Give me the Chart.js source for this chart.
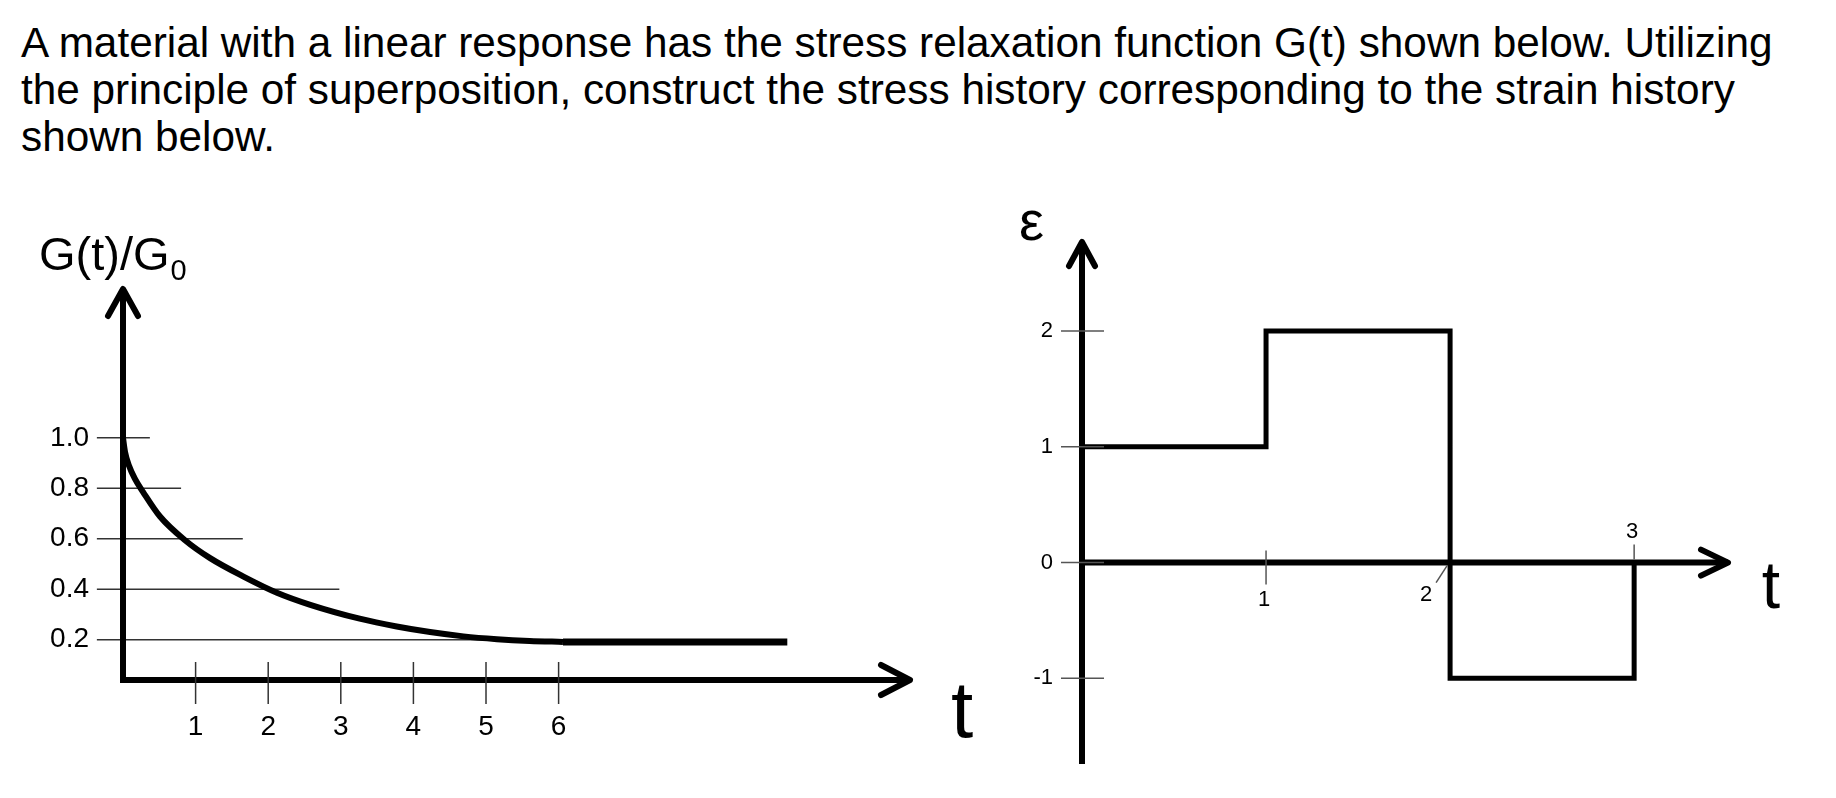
<!DOCTYPE html>
<html>
<head>
<meta charset="utf-8">
<script src="https://cdn.jsdelivr.net/npm/chart.js@4.4.1/dist/chart.umd.min.js"></script>
<style>
  html, body { margin: 0; padding: 0; background: #fff; }
  body { width: 1836px; height: 798px; position: relative; overflow: hidden; font-family: "Liberation Sans", Arial, sans-serif; }
  #title { position: absolute; left: 21px; top: 19px; font-size: 42.3px; line-height: 47px; color: #000; white-space: nowrap; }
  canvas { position: absolute; left: 0; top: 0; }
</style>
</head>
<body>
<div id="title">A material with a linear response has the stress relaxation function G(t) shown below. Utilizing<br>the principle of superposition, construct the stress history corresponding to the strain history<br>shown below.</div>
<canvas id="relaxChart" width="1836" height="798"></canvas>
<canvas id="strainChart" width="1836" height="798"></canvas>
<script>
// G(t)/G0
const relaxT   = [0, 0.028, 0.083, 0.165, 0.275, 0.51, 0.85, 1.2, 1.66, 2.12, 2.58, 3.26, 3.77, 4.23, 4.69, 5.15, 5.6, 6.06];
const relaxVal = [1.0, 0.944, 0.889, 0.837, 0.786, 0.688, 0.595, 0.523, 0.45, 0.386, 0.338, 0.283, 0.252, 0.23, 0.213, 0.202, 0.195, 0.191];
// long-time plateau
const tailT   = [6.06, 9.15];
const tailVal = [0.191, 0.191];
// horizontal guide lines at the y ticks (they stop at different t)
const guideLevels = [1.0, 0.8, 0.6, 0.4, 0.2];
const guideStart  = -0.36;
const guideEnds   = [0.37, 0.8, 1.65, 2.98, 6.1];
const relaxTicksX = [1, 2, 3, 4, 5, 6];

// strain history, right plot
const strainT   = [0, 1, 2, 3];
const strainVal = [1, 2, -1, 0];
const strainTicksY = [2, 1, 0, -1];
const strainTicksX = [1, 2, 3];

const FONT = '"Liberation Sans", Arial, sans-serif';

function arrowHead(ctx, tx, ty, dir, len, half) {
  ctx.beginPath();
  if (dir === 'up') {
    ctx.moveTo(tx - half, ty + len); ctx.lineTo(tx, ty); ctx.lineTo(tx + half, ty + len);
  } else {
    ctx.moveTo(tx - len, ty - half); ctx.lineTo(tx, ty); ctx.lineTo(tx - len, ty + half);
  }
  ctx.stroke();
}

const relaxAxes = {
  id: 'relaxAxes',
  afterDatasetsDraw(chart) {
    const { ctx, chartArea: a, scales: { x, y } } = chart;
    // the sketch puts its t axis a little under G = 0, so use the area bottom
    const ox = x.getPixelForValue(0), oy = a.bottom;
    ctx.save();
    ctx.strokeStyle = '#000';
    ctx.lineWidth = 6;
    ctx.lineJoin = 'miter';
    ctx.beginPath();
    ctx.moveTo(ox, a.top); ctx.lineTo(ox, oy); ctx.lineTo(a.right, oy);
    ctx.stroke();
    ctx.lineJoin = 'round'; ctx.lineCap = 'round';
    arrowHead(ctx, ox, a.top, 'up', 27, 15);
    arrowHead(ctx, a.right, oy, 'right', 29, 15);

    // x tick marks + labels
    ctx.lineCap = 'butt';
    ctx.lineWidth = 1.5;
    ctx.strokeStyle = '#333';
    ctx.fillStyle = '#000';
    ctx.font = '28px ' + FONT;
    ctx.textAlign = 'center';
    ctx.textBaseline = 'middle';
    relaxTicksX.forEach(v => {
      const px = x.getPixelForValue(v);
      ctx.beginPath(); ctx.moveTo(px, oy - 18); ctx.lineTo(px, oy + 24); ctx.stroke();
      ctx.fillText(String(v), px, oy + 47);
    });
    // y labels
    ctx.textAlign = 'right';
    guideLevels.forEach(v => ctx.fillText(v.toFixed(1), 89, y.getPixelForValue(v)));

    // axis titles
    ctx.textAlign = 'left';
    ctx.textBaseline = 'alphabetic';
    ctx.font = '47px ' + FONT;
    ctx.fillText('G(t)/G', 39, 270);
    const w = ctx.measureText('G(t)/G').width;
    ctx.font = '29px ' + FONT;
    ctx.fillText('0', 39 + w + 1, 280);
    ctx.font = '80px ' + FONT;
    ctx.textAlign = 'center';
    ctx.fillText('t', 962, 737);
    ctx.restore();
  }
};

const strainAxes = {
  id: 'strainAxes',
  afterDatasetsDraw(chart) {
    const { ctx, chartArea: a, scales: { x, y } } = chart;
    const ox = x.getPixelForValue(0), oy = y.getPixelForValue(0);
    ctx.save();
    ctx.strokeStyle = '#000';
    ctx.lineWidth = 6;
    ctx.beginPath(); ctx.moveTo(ox, a.bottom); ctx.lineTo(ox, a.top); ctx.stroke();
    ctx.beginPath(); ctx.moveTo(ox, oy); ctx.lineTo(a.right, oy); ctx.stroke();
    ctx.lineJoin = 'round'; ctx.lineCap = 'round';
    arrowHead(ctx, ox, a.top, 'up', 24, 13);
    arrowHead(ctx, a.right, oy, 'right', 27, 13);

    ctx.lineCap = 'butt';
    ctx.lineWidth = 1.5;
    ctx.strokeStyle = '#555';
    ctx.fillStyle = '#000';
    ctx.font = '22px ' + FONT;
    ctx.textAlign = 'right';
    ctx.textBaseline = 'middle';
    strainTicksY.forEach(v => {
      const py = y.getPixelForValue(v);
      ctx.beginPath(); ctx.moveTo(ox - 21, py); ctx.lineTo(ox + 22, py); ctx.stroke();
      ctx.fillText(String(v), ox - 29, py);
    });

    // x ticks: 1 below, 2 slanted below-left, 3 above
    const tickMarks = { 1: [[0, -12], [0, 22]], 2: [[-3, 3], [-14, 20]], 3: [[0, -18], [0, -3]] };
    const labelOff  = { 1: [-2, 37], 2: [-24, 32], 3: [-2, -31] };
    ctx.textAlign = 'center';
    strainTicksX.forEach(v => {
      const px = x.getPixelForValue(v);
      const m = tickMarks[v], l = labelOff[v];
      ctx.beginPath(); ctx.moveTo(px + m[0][0], oy + m[0][1]); ctx.lineTo(px + m[1][0], oy + m[1][1]); ctx.stroke();
      ctx.fillText(String(v), px + l[0], oy + l[1]);
    });

    ctx.textAlign = 'left';
    ctx.textBaseline = 'alphabetic';
    ctx.font = '56px ' + FONT;
    ctx.fillText('ε', 1019, 240);
    ctx.font = '66px ' + FONT;
    ctx.textAlign = 'center';
    ctx.fillText('t', 1771, 608);
    ctx.restore();
  }
};

const commonPlugins = { legend: { display: false }, tooltip: { enabled: false } };

const guideSets = guideLevels.map((lv, i) => ({
  data: [{ x: guideStart, y: lv }, { x: guideEnds[i], y: lv }],
  borderColor: '#333',
  borderWidth: 1.5,
  pointRadius: 0,
  clip: false
}));

new Chart(document.getElementById('relaxChart'), {
  type: 'line',
  data: {
    datasets: [
      {
        data: relaxT.map((t, i) => ({ x: t, y: relaxVal[i] })),
        borderColor: '#000',
        borderWidth: 6,
        pointRadius: 0,
        cubicInterpolationMode: 'monotone',
        clip: false
      },
      {
        data: tailT.map((t, i) => ({ x: t, y: tailVal[i] })),
        borderColor: '#000',
        borderWidth: 7,
        pointRadius: 0,
        clip: false
      },
      ...guideSets
    ]
  },
  options: {
    responsive: false,
    animation: false,
    events: [],
    layout: { padding: { left: 123, right: 926, top: 289, bottom: 118 } },
    plugins: commonPlugins,
    scales: {
      x: { type: 'linear', min: 0, max: 10.84, display: false },
      y: { type: 'linear', min: 0.04, max: 1.59, display: false }
    }
  },
  plugins: [relaxAxes]
});

new Chart(document.getElementById('strainChart'), {
  type: 'line',
  data: {
    datasets: [{
      data: strainT.map((t, i) => ({ x: t, y: strainVal[i] })),
      stepped: 'before',
      borderColor: '#000',
      borderWidth: 5,
      pointRadius: 0,
      clip: false
    }]
  },
  options: {
    responsive: false,
    animation: false,
    events: [],
    layout: { padding: { left: 1082, right: 108, top: 242, bottom: 34 } },
    plugins: commonPlugins,
    scales: {
      x: { type: 'linear', min: 0, max: 3.51, display: false },
      y: { type: 'linear', min: -1.74, max: 2.77, display: false }
    }
  },
  plugins: [strainAxes]
});
</script>
</body>
</html>
